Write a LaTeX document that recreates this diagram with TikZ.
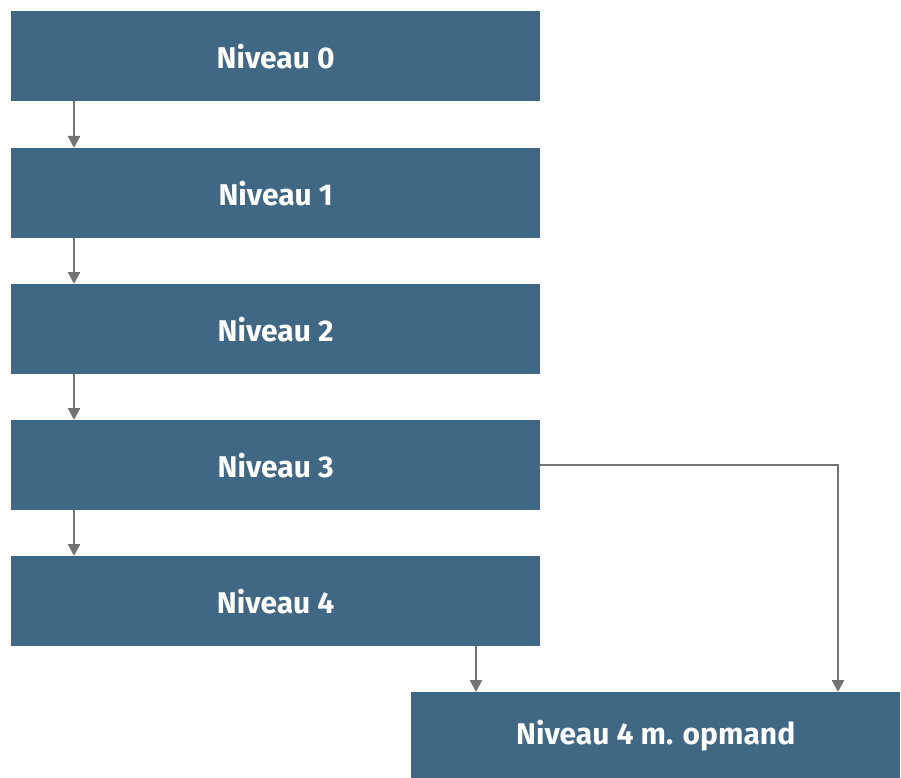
\documentclass[tikz,border=0pt]{standalone}
\usepackage{fontspec}
\setmainfont{Fira Sans}
\usetikzlibrary{arrows.meta}
\definecolor{boxblue}{HTML}{406884}
\definecolor{linegrey}{HTML}{737373}
\begin{document}
\begin{tikzpicture}[x=1pt,y=-1pt,
  level/.style={fill=boxblue, draw=none, text=white, font=\bfseries\fontsize{30}{34}\selectfont,
    minimum width=529pt, minimum height=90pt, inner sep=0pt, anchor=north west},
  flow/.style={draw=linegrey, line width=2.4pt, -{Triangle[width=12pt,length=12pt]}}]
\useasboundingbox (0,0) rectangle (901,778);
\node[level] (n0) at (11,11) {Niveau 0};
\node[level] (n1) at (11,148) {Niveau 1};
\node[level] (n2) at (11,284) {Niveau 2};
\node[level] (n3) at (11,420) {Niveau 3};
\node[level] (n4) at (11,556) {Niveau 4};
\node[level, minimum width=489pt, minimum height=86pt] (n5) at (411,692) {Niveau 4 m. opmand};
\draw[flow] (n0.south west) ++(63,0) coordinate (a0) -- (a0 |- n1.north);
\draw[flow] (n1.south west) ++(63,0) coordinate (a1) -- (a1 |- n2.north);
\draw[flow] (n2.south west) ++(63,0) coordinate (a2) -- (a2 |- n3.north);
\draw[flow] (n3.south west) ++(63,0) coordinate (a3) -- (a3 |- n4.north);
\draw[flow] (n4.south west) ++(465,0) coordinate (a4) -- (a4 |- n5.north);
\coordinate (bend) at (838,0);
\draw[flow] (n3.east) -- (bend |- n3.east) -- (bend |- n5.north);
\end{tikzpicture}
\end{document}
